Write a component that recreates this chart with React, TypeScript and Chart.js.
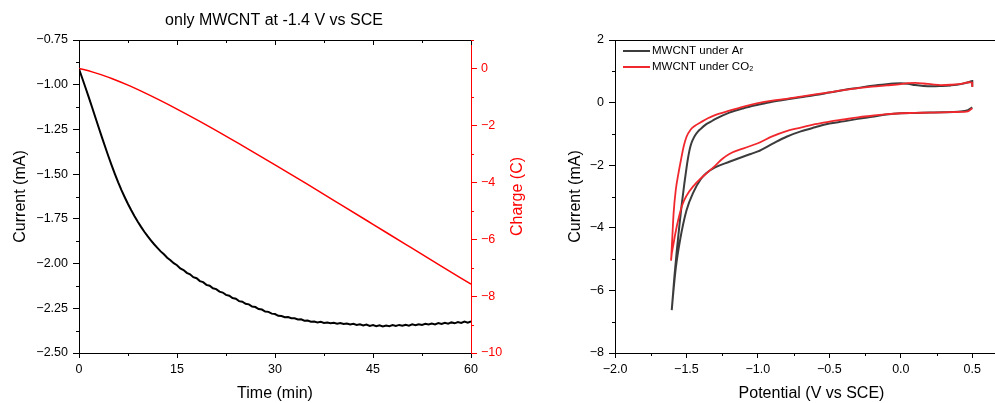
import React, { useEffect, useRef } from 'react';
import { Chart, registerables } from 'chart.js';

Chart.register(...registerables);

const FONT = '"Liberation Sans", Arial, Helvetica, sans-serif';

// ---------- Left chart: chronoamperometry ----------
const timeMin = [
  0, 0.5, 1, 1.5, 2, 2.5, 3, 3.5, 4, 4.5,
  5, 5.5, 6, 6.5, 7, 7.5, 8, 8.5, 9, 9.5,
  10, 10.5, 11, 11.5, 12, 12.5, 13, 13.5, 14, 14.5,
  15, 15.5, 16, 16.5, 17, 17.5, 18, 18.5, 19, 19.5,
  20, 20.5, 21, 21.5, 22, 22.5, 23, 23.5, 24, 24.5,
  25, 25.5, 26, 26.5, 27, 27.5, 28, 28.5, 29, 29.5,
  30, 30.5, 31, 31.5, 32, 32.5, 33, 33.5, 34, 34.5,
  35, 35.5, 36, 36.5, 37, 37.5, 38, 38.5, 39, 39.5,
  40, 40.5, 41, 41.5, 42, 42.5, 43, 43.5, 44, 44.5,
  45, 45.5, 46, 46.5, 47, 47.5, 48, 48.5, 49, 49.5,
  50, 50.5, 51, 51.5, 52, 52.5, 53, 53.5, 54, 54.5,
  55, 55.5, 56, 56.5, 57, 57.5, 58, 58.5, 59, 59.5,
  60,
];
const currentMA = [
  -0.912, -0.964, -1.017, -1.071, -1.126, -1.182, -1.238, -1.293, -1.347, -1.400,
  -1.451, -1.500, -1.546, -1.589, -1.629, -1.667, -1.702, -1.735, -1.766, -1.795,
  -1.822, -1.847, -1.870, -1.892, -1.912, -1.932, -1.948, -1.967, -1.981, -1.998,
  -2.009, -2.027, -2.036, -2.052, -2.060, -2.076, -2.082, -2.098, -2.104, -2.119,
  -2.124, -2.138, -2.143, -2.157, -2.162, -2.175, -2.180, -2.193, -2.197, -2.210,
  -2.213, -2.225, -2.228, -2.240, -2.243, -2.254, -2.257, -2.268, -2.270, -2.280,
  -2.282, -2.292, -2.293, -2.300, -2.299, -2.306, -2.306, -2.313, -2.312, -2.319,
  -2.318, -2.325, -2.324, -2.329, -2.326, -2.332, -2.329, -2.334, -2.331, -2.336,
  -2.332, -2.338, -2.335, -2.341, -2.337, -2.343, -2.339, -2.346, -2.341, -2.349,
  -2.344, -2.350, -2.345, -2.351, -2.346, -2.350, -2.344, -2.349, -2.343, -2.348,
  -2.342, -2.347, -2.340, -2.345, -2.339, -2.343, -2.337, -2.341, -2.335, -2.340,
  -2.333, -2.338, -2.331, -2.336, -2.329, -2.334, -2.327, -2.332, -2.324, -2.330,
  -2.323,
];
const chargeTimeMin = [0, 1, 2, 3, 4, 5, 7.5, 10, 12.5, 15, 20, 25, 30, 35, 40, 45, 50, 55, 60];
const chargeC = [0, -0.056, -0.12, -0.191, -0.269, -0.353, -0.587, -0.85, -1.132, -1.428, -2.05, -2.71, -3.385, -4.075, -4.775, -5.478, -6.182, -6.884, -7.58];

const timeTicks = [0, 15, 30, 45, 60];
const currentTicks = [-2.5, -2.25, -2.0, -1.75, -1.5, -1.25, -1.0, -0.75];
const chargeTicks = [-10, -8, -6, -4, -2, 0];

// ---------- Right chart: cyclic voltammetry ----------
const arPotentialV = [
  0.5, 0.47, 0.4, 0.3, 0.2, 0.1, 0.0, -0.1, -0.2, -0.3,
  -0.4, -0.5, -0.6, -0.7, -0.8, -0.9, -1.0, -1.05, -1.1, -1.2,
  -1.3, -1.36, -1.4, -1.45, -1.5, -1.545, -1.575, -1.603,
  -1.585, -1.568, -1.55, -1.533, -1.515, -1.5, -1.49, -1.48, -1.47, -1.455,
  -1.44, -1.42, -1.4, -1.37, -1.33, -1.3, -1.2, -1.1, -1.0, -0.9,
  -0.8, -0.7, -0.6, -0.5, -0.4, -0.3, -0.2, -0.1, -0.05, 0.0,
  0.05, 0.1, 0.16, 0.22, 0.28, 0.35, 0.42, 0.48, 0.5, 0.5,
];
const arCurrentMA = [
  -0.15, -0.24, -0.29, -0.31, -0.32, -0.33, -0.34, -0.38, -0.45, -0.52,
  -0.6, -0.67, -0.79, -0.92, -1.09, -1.32, -1.56, -1.64, -1.72, -1.89,
  -2.07, -2.25, -2.45, -2.85, -3.45, -4.4, -5.3, -6.63,
  -5.6, -4.75, -3.95, -3.25, -2.6, -2.1, -1.8, -1.55, -1.36, -1.18,
  -1.05, -0.93, -0.84, -0.72, -0.61, -0.53, -0.32, -0.18, -0.07, 0.03,
  0.1, 0.17, 0.24, 0.32, 0.4, 0.47, 0.54, 0.59, 0.61, 0.62,
  0.6, 0.56, 0.53, 0.52, 0.53, 0.55, 0.59, 0.66, 0.69, 0.51,
];
const co2PotentialV = [
  0.5, 0.47, 0.4, 0.3, 0.2, 0.1, 0.0, -0.1, -0.2, -0.3,
  -0.4, -0.5, -0.6, -0.7, -0.8, -0.9, -1.0, -1.1, -1.2, -1.25,
  -1.3, -1.36, -1.4, -1.45, -1.5, -1.53, -1.568, -1.59, -1.608,
  -1.6, -1.59, -1.575, -1.556, -1.535, -1.52, -1.5, -1.47, -1.44, -1.4,
  -1.35, -1.3, -1.2, -1.1, -1.0, -0.9, -0.8, -0.7, -0.6, -0.5,
  -0.4, -0.3, -0.2, -0.1, 0.0, 0.05, 0.1, 0.16, 0.22, 0.28,
  0.35, 0.42, 0.48, 0.5, 0.5,
];
const co2CurrentMA = [
  -0.18, -0.28, -0.3, -0.31, -0.32, -0.33, -0.34, -0.37, -0.42, -0.47,
  -0.54, -0.61, -0.69, -0.8, -0.91, -1.08, -1.3, -1.46, -1.64, -1.8,
  -2.02, -2.26, -2.42, -2.66, -2.98, -3.28, -3.96, -4.5, -5.05,
  -4.4, -3.54, -2.8, -2.26, -1.75, -1.41, -1.1, -0.86, -0.74, -0.63,
  -0.5, -0.4, -0.26, -0.13, -0.02, 0.06, 0.12, 0.19, 0.26, 0.33,
  0.4, 0.46, 0.51, 0.55, 0.59, 0.62, 0.63, 0.61, 0.58, 0.56,
  0.57, 0.6, 0.65, 0.64, 0.5,
];
const potentialTicks = [-2.0, -1.5, -1.0, -0.5, 0.0, 0.5];
const cvCurrentTicks = [-8, -6, -4, -2, 0, 2];

const fmt = (v: number, d: number) => {
  const s = Math.abs(v).toFixed(d);
  return v < 0 && Number(s) !== 0 ? '\u2212' + s : s;
};

const tickFont = { family: FONT, size: 12.5 };
const titleFont = { family: FONT, size: 16 };

type MinorSpec = { id: string; step: number; major: number; side: 'left' | 'right' | 'bottom'; color: string; top?: boolean };

const decor = {
  id: 'decor',
  afterDraw(chart: any, _args: any, opts: any) {
    const { ctx, chartArea: a } = chart;
    ctx.save();
    ctx.lineWidth = 1;
    ctx.strokeStyle = '#000';
    const ty = Math.round(a.top) + 0.5;
    ctx.beginPath();
    ctx.moveTo(a.left, ty);
    ctx.lineTo(a.right, ty);
    ctx.stroke();
    for (const m of (opts.minor || []) as MinorSpec[]) {
      const s = chart.scales[m.id];
      ctx.strokeStyle = m.color;
      const n0 = Math.ceil(s.min / m.step - 1e-9);
      const n1 = Math.floor(s.max / m.step + 1e-9);
      for (let n = n0; n <= n1; n++) {
        const v = n * m.step;
        const r = v / m.major;
        const isMajor = Math.abs(r - Math.round(r)) < 1e-6;
        const p = Math.round(s.getPixelForValue(v)) + 0.5;
        ctx.beginPath();
        if (!isMajor) {
          if (m.side === 'bottom') { ctx.moveTo(p, a.bottom); ctx.lineTo(p, a.bottom + 3); }
          if (m.side === 'left') { ctx.moveTo(a.left, p); ctx.lineTo(a.left - 3, p); }
          if (m.side === 'right') { ctx.moveTo(a.right, p); ctx.lineTo(a.right + 3, p); }
        }
        if (m.top) { ctx.moveTo(p, a.top); ctx.lineTo(p, a.top + (isMajor ? 5 : 3)); }
        ctx.stroke();
      }
    }
    if (opts.rightTitle) {
      ctx.save();
      ctx.fillStyle = opts.rightTitle.color;
      ctx.font = `16px ${FONT}`;
      ctx.textAlign = 'center';
      ctx.textBaseline = 'middle';
      ctx.translate(opts.rightTitle.x, (a.top + a.bottom) / 2);
      ctx.rotate(-Math.PI / 2);
      ctx.fillText(opts.rightTitle.text, 0, 0);
      ctx.restore();
    }
    if (opts.legend) {
      ctx.font = `11.5px ${FONT}`;
      ctx.textAlign = 'left';
      ctx.textBaseline = 'middle';
      chart.data.datasets.forEach((ds: any, i: number) => {
        const y = a.top + 11 + i * 16;
        ctx.strokeStyle = ds.borderColor;
        ctx.lineWidth = 2;
        ctx.beginPath();
        ctx.moveTo(a.left + 8, y);
        ctx.lineTo(a.left + 35, y);
        ctx.stroke();
        ctx.fillStyle = '#000';
        ctx.fillText(ds.label, a.left + 37, y);
      });
    }
    ctx.restore();
  },
};

function axis(color: string, tickLen: number, pad: number, ticks: number[], digits: number) {
  return {
    border: { display: true, color, width: 1 },
    grid: { display: true, drawOnChartArea: false, drawTicks: true, tickLength: tickLen, color, lineWidth: 1 },
    ticks: {
      color,
      font: tickFont,
      padding: pad,
      autoSkip: false,
      maxRotation: 0,
      minRotation: 0,
      callback: (v: any) => fmt(Number(v), digits),
    },
    afterBuildTicks: (s: any) => {
      s.ticks = ticks.map((v) => ({ value: v }));
    },
  };
}

export default function App() {
  const leftRef = useRef<HTMLCanvasElement>(null);
  const rightRef = useRef<HTMLCanvasElement>(null);

  useEffect(() => {
    const left = new Chart(leftRef.current as HTMLCanvasElement, {
      type: 'scatter',
      data: {
        datasets: [
          {
            label: 'Current',
            data: timeMin.map((t, i) => ({ x: t, y: currentMA[i] })),
            showLine: true,
            borderColor: '#000000',
            borderWidth: 2,
            pointRadius: 0,
            tension: 0,
            yAxisID: 'y',
          },
          {
            label: 'Charge',
            data: chargeTimeMin.map((t, i) => ({ x: t, y: chargeC[i] })),
            showLine: true,
            borderColor: '#ff0000',
            borderWidth: 1.5,
            pointRadius: 0,
            cubicInterpolationMode: 'monotone',
            yAxisID: 'y2',
          },
        ],
      } as any,
      options: {
        responsive: false,
        animation: false,
        devicePixelRatio: 1,
        layout: { padding: 0 },
        scales: {
          x: {
            type: 'linear',
            min: 0,
            max: 60,
            ...axis('#000', 5, 4.5, timeTicks, 0),
            title: { display: true, text: 'Time (min)', color: '#000', font: titleFont, padding: { top: 0, bottom: 0 } },
            afterFit: (s: any) => { s.height = 50; },
          },
          y: {
            type: 'linear',
            position: 'left',
            min: -2.5,
            max: -0.75,
            ...axis('#000', 6, 5, currentTicks, 2),
            title: { display: true, text: 'Current (mA)', color: '#000', font: titleFont, padding: { top: 11, bottom: 0 } },
            afterFit: (s: any) => { s.width = 79; },
          },
          y2: {
            type: 'linear',
            position: 'right',
            min: -10,
            max: 1,
            ...axis('#ff0000', 6, 4, chargeTicks, 0),
            afterFit: (s: any) => { s.width = 77; },
          },
        },
        plugins: {
          legend: { display: false },
          tooltip: { enabled: false },
          title: {
            display: true,
            text: 'only MWCNT at -1.4 V vs SCE',
            color: '#000',
            font: { family: FONT, size: 16, weight: 'normal' },
            padding: { top: 11.4, bottom: 9.4 },
          },
          decor: {
            minor: [
              { id: 'x', step: 7.5, major: 15, side: 'bottom', color: '#000', top: true },
              { id: 'y', step: 0.125, major: 0.25, side: 'left', color: '#000' },
              { id: 'y2', step: 1, major: 2, side: 'right', color: '#ff0000' },
            ],
            rightTitle: { text: 'Charge (C)', color: '#ff0000', x: 518 },
          },
        },
      } as any,
      plugins: [decor],
    });

    const right = new Chart(rightRef.current as HTMLCanvasElement, {
      type: 'scatter',
      data: {
        datasets: [
          {
            label: 'MWCNT under Ar',
            data: arPotentialV.map((v, i) => ({ x: v, y: arCurrentMA[i] })),
            showLine: true,
            borderColor: '#3c3c3c',
            borderWidth: 2,
            pointRadius: 0,
            cubicInterpolationMode: 'monotone',
            order: 1,
          },
          {
            label: 'MWCNT under CO\u2082',
            data: co2PotentialV.map((v, i) => ({ x: v, y: co2CurrentMA[i] })),
            showLine: true,
            borderColor: '#f0282d',
            borderWidth: 1.8,
            pointRadius: 0,
            cubicInterpolationMode: 'monotone',
            order: 0,
          },
        ],
      } as any,
      options: {
        responsive: false,
        animation: false,
        devicePixelRatio: 1,
        layout: { padding: { top: 40, left: 0, right: 0, bottom: 0 } },
        scales: {
          x: {
            type: 'linear',
            min: -2,
            max: 0.75,
            ...axis('#000', 5, 4.5, potentialTicks, 1),
            title: { display: true, text: 'Potential (V vs SCE)', color: '#000', font: titleFont, padding: { top: 0, bottom: 0 } },
            afterFit: (s: any) => { s.height = 50; },
          },
          y: {
            type: 'linear',
            position: 'left',
            min: -8,
            max: 2,
            ...axis('#000', 6, 5, cvCurrentTicks, 0),
            title: { display: true, text: 'Current (mA)', color: '#000', font: titleFont, padding: { top: 18, bottom: 0 } },
            afterFit: (s: any) => { s.width = 67; },
          },
        },
        plugins: {
          legend: { display: false },
          tooltip: { enabled: false },
          decor: {
            minor: [
              { id: 'x', step: 0.25, major: 0.5, side: 'bottom', color: '#000' },
              { id: 'y', step: 1, major: 2, side: 'left', color: '#000' },
            ],
            legend: true,
          },
        },
      } as any,
      plugins: [decor],
    });

    return () => {
      left.destroy();
      right.destroy();
    };
  }, []);

  return (
    <div style={{ position: 'absolute', left: 0, top: 0, width: 995, height: 403, overflow: 'hidden', background: '#fff' }}>
      <canvas ref={leftRef} width={548} height={403} style={{ position: 'absolute', left: 0, top: 0, width: 548, height: 403 }} />
      <canvas ref={rightRef} width={460} height={403} style={{ position: 'absolute', left: 548, top: 0, width: 460, height: 403 }} />
    </div>
  );
}
